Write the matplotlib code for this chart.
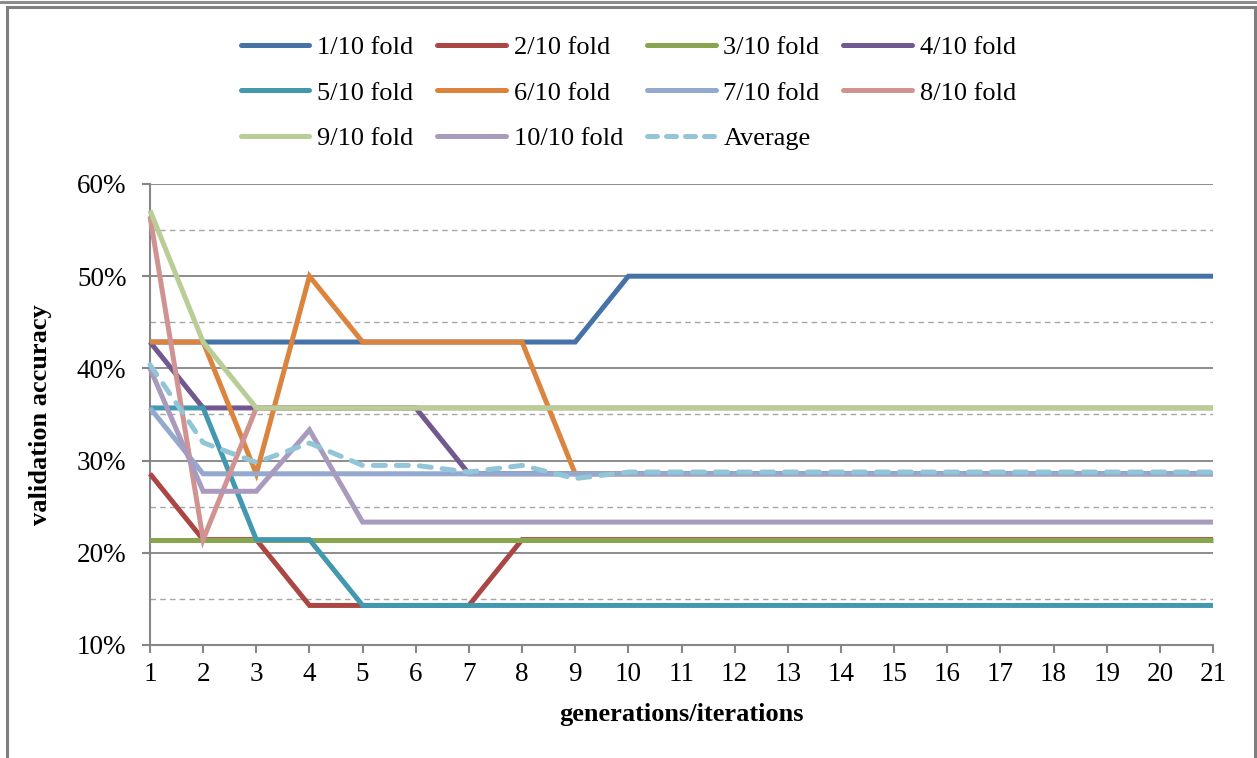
#encoding=utf-8

import numpy as np
import matplotlib
matplotlib.use("Agg")
import matplotlib.pyplot as plt
from matplotlib.patches import Rectangle
from matplotlib.lines import Line2D
from matplotlib.ticker import MultipleLocator, FuncFormatter

# generations 1..21
generations = list(range(1, 22))

fold_names = ["1/10 fold", "2/10 fold", "3/10 fold", "4/10 fold", "5/10 fold",
              "6/10 fold", "7/10 fold", "8/10 fold", "9/10 fold", "10/10 fold"]

# validation accuracy per generation (%)
fold1 = [42.86] * 9 + [50.0] * 12
fold2 = [28.57, 21.43, 21.43, 14.29, 14.29, 14.29, 14.29] + [21.43] * 14
fold3 = [21.43] * 21
fold4 = [42.86, 35.71, 35.71, 35.71, 35.71, 35.71] + [28.57] * 15
fold5 = [35.71, 35.71, 21.43, 21.43] + [14.29] * 17
fold6 = [42.86, 42.86, 28.57, 50.0, 42.86, 42.86, 42.86, 42.86] + [28.57] * 13
fold7 = [35.71] + [28.57] * 20
fold8 = [56.5, 21.43] + [35.71] * 19
fold9 = [57.14, 42.86] + [35.71] * 19
fold10 = [40.0, 26.67, 26.67, 33.33] + [23.33] * 17
average = [40.4, 31.95, 29.8, 31.9, 29.48, 29.48, 28.76, 29.48, 28.05] + [28.76] * 12

folds = [fold1, fold2, fold3, fold4, fold5, fold6, fold7, fold8, fold9, fold10]
colors = ["#4572A7", "#AA4643", "#89A54E", "#71588F", "#4198AF",
          "#DB843D", "#93A9CF", "#D19392", "#B9CD96", "#A99BBD"]
avg_color = "#92C5D8"


def main():
    plt.rcParams["font.family"] = ["Liberation Serif", "DejaVu Serif"]
    fig = plt.figure(figsize=(12.57, 7.58), dpi=100)
    ax = fig.add_axes([150 / 1257, 1 - 645 / 758, 1063 / 1257, 461 / 758])

    lw = 3.6
    handles = []
    for name, vals, c in zip(fold_names, folds, colors):
        ax.plot(generations, np.array(vals) / 100, color=c, linewidth=lw,
                solid_joinstyle="miter", solid_capstyle="butt", label=name,
                clip_on=False, zorder=3)
        handles.append(Line2D([], [], color=c, linewidth=lw, solid_capstyle="round"))
    ax.plot(generations, np.array(average) / 100, color=avg_color, linewidth=lw,
            dashes=(2.4, 2.2), dash_capstyle="round", label="Average",
            clip_on=False, zorder=4)
    handles.append(Line2D([], [], color=avg_color, linewidth=lw,
                          dashes=(2.0, 1.8), dash_capstyle="round"))
    labels = fold_names + ["Average"]

    ax.set_xlim(1, 21)
    ax.set_ylim(0.10, 0.60)
    ax.set_xticks(generations)
    ax.yaxis.set_major_locator(MultipleLocator(0.10))
    ax.yaxis.set_minor_locator(MultipleLocator(0.05))
    ax.yaxis.set_major_formatter(FuncFormatter(lambda v, p: "%d%%" % round(v * 100)))

    # solid major gridlines, dashed minor ones
    ax.grid(True, which="major", axis="y", color="#8c8c8c", linewidth=1.4, zorder=1)
    ax.grid(True, which="minor", axis="y", color="#a6a6a6", linewidth=1.0,
            linestyle=(0, (4, 3)), zorder=1)
    ax.set_axisbelow(True)

    ax.spines["right"].set_color("none")
    ax.spines["top"].set_color("none")
    for s in ["left", "bottom"]:
        ax.spines[s].set_color("#868686")
        ax.spines[s].set_linewidth(1.5)
    ax.tick_params(axis="both", which="major", direction="out", length=6,
                   width=1.5, color="#868686", labelsize=19.5)
    ax.tick_params(axis="y", which="minor", length=0)
    ax.tick_params(axis="y", which="major", pad=11)
    ax.tick_params(axis="x", which="major", pad=6)

    ax.set_ylabel("validation accuracy", fontsize=19, fontweight="bold", labelpad=18)
    ax.set_xlabel("generations/iterations", fontsize=19, fontweight="bold", labelpad=12)

    # legend fills column by column, so reorder to read row by row
    order = [0, 4, 8, 1, 5, 9, 2, 6, 10, 3, 7]
    fig.legend([handles[i] for i in order], [labels[i] for i in order], ncol=4,
               loc="upper center", bbox_to_anchor=(0.5, 1 - 12 / 758),
               frameon=False, fontsize=19, handlelength=2.6, handletextpad=0.3,
               labelspacing=0.83, columnspacing=0.9)

    # outer chart frame
    fig.patches.append(Rectangle((7 / 1257, -0.05), 1248 / 1257, 1.05 - 7 / 758,
                                 transform=fig.transFigure, fill=False,
                                 edgecolor="#7f7f7f", linewidth=2.2))
    fig.lines.append(Line2D([0, 1], [1 - 2 / 758, 1 - 2 / 758],
                            transform=fig.transFigure, color="#8c8c8c", linewidth=2.2))

    fig.savefig("out.png", dpi=100)


if __name__ == '__main__':
    main()
